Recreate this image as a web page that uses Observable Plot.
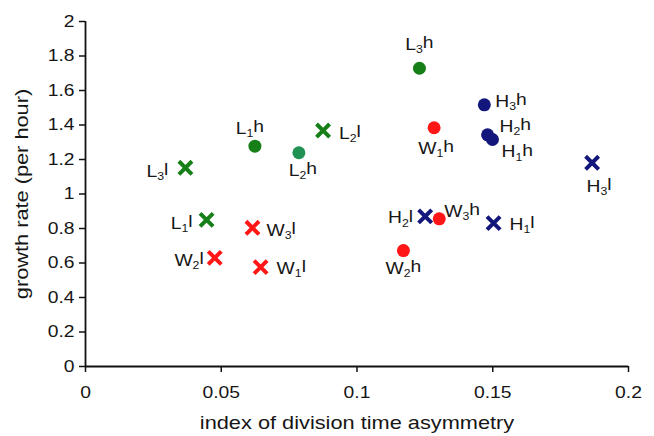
<!DOCTYPE html>
<html>
<head>
<meta charset="utf-8">
<script src="https://cdn.jsdelivr.net/npm/d3@7"></script>
<script src="https://cdn.jsdelivr.net/npm/@observablehq/plot@0.6"></script>
<style>
  html, body { margin: 0; padding: 0; background: #fff; }
  #chart { width: 654px; height: 436px; }
</style>
</head>
<body>
<div id="chart"></div>
<script>
// Data
const labels = ["L_1h", "L_2h", "L_3h", "L_1l", "L_2l", "L_3l",
                "W_1h", "W_2h", "W_3h", "W_1l", "W_2l", "W_3l",
                "H_1h", "H_2h", "H_3h", "H_1l", "H_2l", "H_3l"];
const asymmetry = [0.0624, 0.0786, 0.1230, 0.0446, 0.0875, 0.0368,
                   0.1284, 0.1171, 0.1303, 0.0645, 0.0476, 0.0615,
                   0.1499, 0.1481, 0.1469, 0.1503, 0.1251, 0.1866];
const growth = [1.277, 1.239, 1.729, 0.850, 1.368, 1.152,
                1.384, 0.672, 0.856, 0.576, 0.630, 0.804,
                1.316, 1.343, 1.517, 0.831, 0.870, 1.181];
const strain = ["L", "L", "L", "L", "L", "L",
                "W", "W", "W", "W", "W", "W",
                "H", "H", "H", "H", "H", "H"];
const condition = ["h", "h", "h", "l", "l", "l",
                   "h", "h", "h", "l", "l", "l",
                   "h", "h", "h", "l", "l", "l"];
const xTicks = [0, 0.05, 0.1, 0.15, 0.2];
const xTickLabels = ["0", "0.05", "0.1", "0.15", "0.2"];
const yTicks = [0, 0.2, 0.4, 0.6, 0.8, 1, 1.2, 1.4, 1.6, 1.8, 2];
const yTickLabels = ["0", "0.2", "0.4", "0.6", "0.8", "1", "1.2", "1.4", "1.6", "1.8", "2"];

// Layout: where each annotation sits relative to its marker (anchor, dx, baseline dy)
const labelPlacement = {
  "L_1h": ["middle", -5, -12], "L_2h": ["middle", 4, 23], "L_3h": ["middle", 0, -18],
  "L_1l": ["end", -14, 9],     "L_2l": ["start", 16, 8],  "L_3l": ["end", -17, 9],
  "W_1h": ["middle", 2, 26],   "W_2h": ["middle", 0, 23], "W_3h": ["start", 5, -2],
  "W_1l": ["start", 16, 7],    "W_2l": ["end", -11, 8],   "W_3l": ["start", 14, 8],
  "H_1h": ["start", 9, 18],    "H_2h": ["start", 12, -3], "H_3h": ["start", 11, 2],
  "H_1l": ["start", 16, 7],    "H_2l": ["end", -12, 7],   "H_3l": ["middle", 7, 29]
};
const colors = {L: "#177f17", W: "#ff1616", H: "#13167a"};

const rows = labels.map((lab, i) => ({
  label: lab, x: asymmetry[i], y: growth[i], strain: strain[i], cond: condition[i],
  color: (lab === "L_2h") ? "#1f9254" : colors[strain[i]]
}));

const font = "'Liberation Sans', Arial, sans-serif";

const labelMarks = rows.map(d => {
  const [anchor, dx, dy] = labelPlacement[d.label];
  return Plot.text([d], {
    x: "x", y: "y", text: "label",
    textAnchor: anchor, lineAnchor: "bottom", dx, dy,
    fill: "#161616", fontSize: 16.5
  });
});

const chart = Plot.plot({
  width: 654,
  height: 436,
  marginLeft: 85,
  marginRight: 26,
  marginTop: 21,
  marginBottom: 70,
  style: {fontFamily: font, fontSize: "16px", color: "#161616", background: "#fff"},
  x: {domain: [0, 0.2]},
  y: {domain: [0, 2]},
  marks: [
    Plot.axisX({ticks: xTicks, tickFormat: (d, i) => xTickLabels[i], tickSize: 6, tickPadding: 14,
      fontSize: 16.5, label: null, stroke: "#111", strokeWidth: 1.5, fill: "#161616"}),
    Plot.axisY({ticks: yTicks, tickFormat: (d, i) => yTickLabels[i], tickSize: 6, tickPadding: 5,
      fontSize: 16.5, label: null, stroke: "#111", strokeWidth: 1.5, fill: "#161616"}),
    Plot.ruleY([0], {stroke: "#111", strokeWidth: 1.8}),
    Plot.ruleX([0], {stroke: "#111", strokeWidth: 1.8}),
    Plot.dot(rows.filter(d => d.cond === "h"), {x: "x", y: "y", r: 6.5, fill: "color", stroke: null}),
    Plot.dot(rows.filter(d => d.cond === "l"), {x: "x", y: "y", r: 6, symbol: "times",
      stroke: "color", strokeWidth: 4, strokeLinecap: "butt"}),
    ...labelMarks,
    Plot.text(["index of division time asymmetry"], {frameAnchor: "bottom", lineAnchor: "bottom",
      textAnchor: "middle", dy: 62, fontSize: 18.6, fill: "#161616"}),
    Plot.text(["growth rate (per hour)"], {frameAnchor: "left", textAnchor: "middle",
      lineAnchor: "middle", dx: -63, rotate: -90, fontSize: 18.6, fill: "#161616"})
  ]
});

// the reference's lettering is wider than Arial: stretch every text along its own
// direction, keeping its anchor point fixed
d3.select(chart).selectAll("text").each(function () {
  const tr = this.getAttribute("transform") || "";
  const ax = parseFloat(this.getAttribute("x")) || 0;
  this.setAttribute("transform",
    (tr + ` translate(${ax},0) scale(1.17,1) translate(${-ax},0)`).trim());
});

// turn "X_nY" labels into real subscripted text
d3.select(chart).selectAll("text").each(function () {
  const t = d3.select(this);
  const s = t.text();
  const m = s.match(/^([A-Z])_(\d)(.*)$/);
  if (!m) return;
  t.text(null);
  t.append("tspan").text(m[1]);
  t.append("tspan").attr("dy", "0.3em").attr("font-size", "10.5").text(m[2]);
  t.append("tspan").attr("dy", "-0.3em").text(m[3]);
});

document.getElementById("chart").appendChild(chart);
</script>
</body>
</html>
